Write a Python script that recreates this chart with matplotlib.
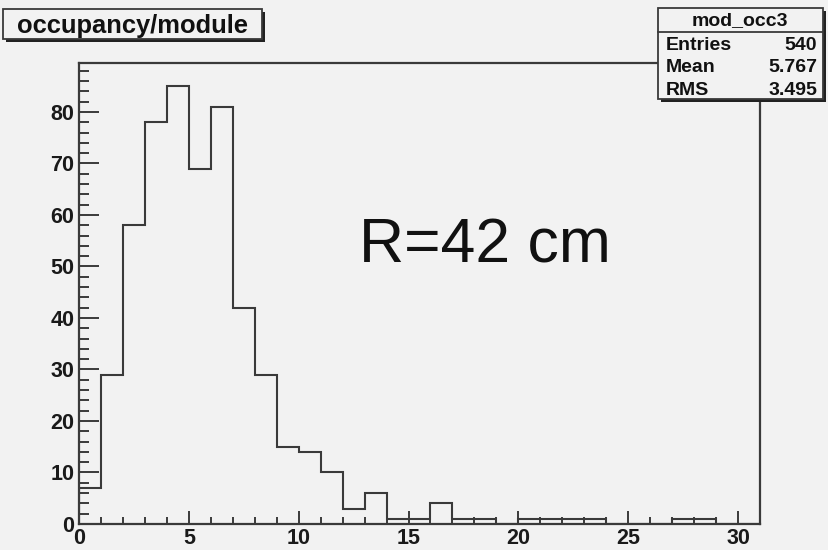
import numpy as np
import matplotlib
matplotlib.use("Agg")
from matplotlib import pyplot as plt
from matplotlib.patches import Rectangle
from matplotlib.ticker import MultipleLocator

plt.rcParams['font.family'] = ['Liberation Sans', 'DejaVu Sans']

# occupancy per module, unit-width bins from 0 to 31
bin_edges = np.arange(0, 32)
counts = [7, 29, 58, 78, 85, 69, 81, 42, 29, 15, 14, 10, 3, 6, 1, 1,
          4, 1, 1, 0, 1, 1, 1, 1, 0, 0, 0, 1, 1, 0, 0]
hist_name = "mod_occ3"
title = "occupancy/module"
note = "R=42 cm"

W, H = 829, 550
bg = "#f2f2f2"
ink = "#3a3a3a"

counts = np.array(counts, dtype=float)
centers = 0.5 * (bin_edges[:-1] + bin_edges[1:])
entries = int(counts.sum())
mean = (centers * counts).sum() / counts.sum()
rms = np.sqrt((counts * (centers - mean) ** 2).sum() / counts.sum())

fig = plt.figure(figsize=(W / 100, H / 100), dpi=100, facecolor=bg)


def fx(x):
    return x / W


def fy(y):
    return 1 - y / H


ax = fig.add_axes([fx(79), fy(524), fx(760 - 79), (524 - 63) / H])
ax.set_facecolor(bg)
ax.stairs(counts, bin_edges, color=ink, linewidth=1.5)
ax.set_xlim(0, 31)
ax.set_ylim(0, counts.max() * 1.053)

for s in ax.spines.values():
    s.set_color(ink)
    s.set_linewidth(1.6)

ax.xaxis.set_major_locator(MultipleLocator(5))
ax.xaxis.set_minor_locator(MultipleLocator(1))
ax.yaxis.set_major_locator(MultipleLocator(10))
ax.yaxis.set_minor_locator(MultipleLocator(2))
ax.tick_params(axis='x', which='major', direction='in', length=9.5, width=1.4,
               color=ink, pad=3, labelsize=15.5)
ax.tick_params(axis='x', which='minor', direction='in', length=5, width=1.4, color=ink)
ax.tick_params(axis='y', which='major', direction='in', length=14.5, width=1.4,
               color=ink, pad=3.5, labelsize=15.5)
ax.tick_params(axis='y', which='minor', direction='in', length=7.2, width=1.4, color=ink)
for lab in ax.get_xticklabels() + ax.get_yticklabels():
    lab.set_fontweight('bold')
    lab.set_color('#1a1a1a')

fig.text(fx(485), fy(246), note, fontsize=45, ha='center', va='center', color='#111111')


def box(x0, y0, x1, y1, shadow=3):
    # drop shadow first, then the framed panel
    fig.patches.append(Rectangle((fx(x0 + shadow), fy(y1 + shadow)), fx(x1 - x0), (y1 - y0) / H,
                                 transform=fig.transFigure, facecolor='#222222',
                                 edgecolor='none', zorder=5))
    fig.patches.append(Rectangle((fx(x0), fy(y1)), fx(x1 - x0), (y1 - y0) / H,
                                 transform=fig.transFigure, facecolor=bg,
                                 edgecolor=ink, linewidth=1.3, zorder=6))


# title box
box(3, 9, 262, 39)
fig.text(fx(17), fy(25.5), title, fontsize=18.4, fontweight='bold', ha='left', va='center',
         color='#111111', zorder=7)

# statistics box
box(658, 8, 823, 99)
fig.add_artist(plt.Line2D([fx(658), fx(823)], [fy(32), fy(32)], color=ink, linewidth=1.3, zorder=7))
fig.text(fx(740), fy(21), hist_name, fontsize=14, fontweight='bold', ha='center', va='center',
         color='#111111', zorder=7)
rows = [("Entries", f"{entries}"), ("Mean", f"{mean:.3f}"), ("RMS", f"{rms:.3f}")]
for i, (k, v) in enumerate(rows):
    y = 45.5 + i * 22.5
    fig.text(fx(666), fy(y), k, fontsize=14, fontweight='bold', ha='left', va='center',
             color='#111111', zorder=7)
    fig.text(fx(817), fy(y), v, fontsize=14, fontweight='bold', ha='right', va='center',
             color='#111111', zorder=7)

fig.savefig("out.png", dpi=100, facecolor=bg)
